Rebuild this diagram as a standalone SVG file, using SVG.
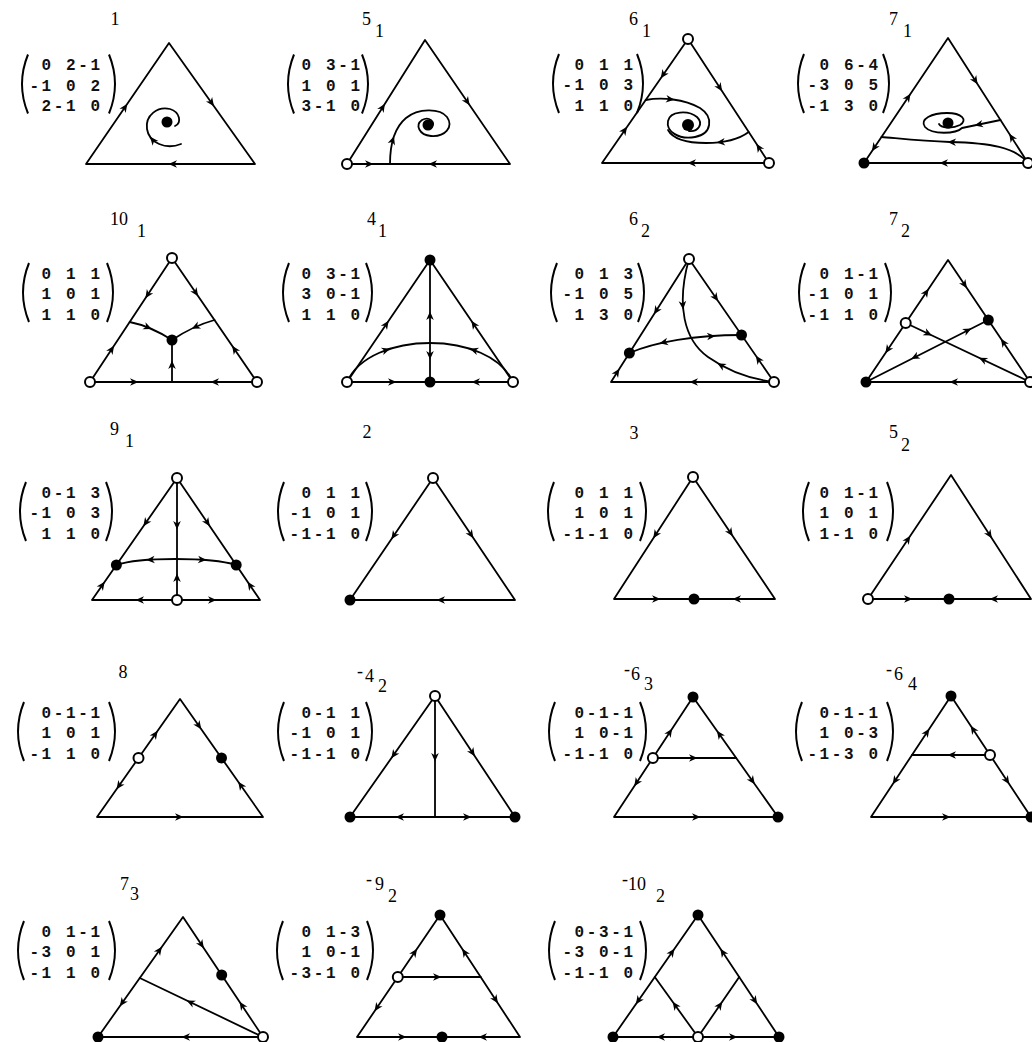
<svg xmlns="http://www.w3.org/2000/svg" xmlns:xlink="http://www.w3.org/1999/xlink" width="1032" height="1042" viewBox="0 0 1032 1042">
<style>
.e{fill:none;stroke:#000;stroke-width:1.8;stroke-linejoin:round;stroke-linecap:round}
.o{fill:#fff;stroke:#000;stroke-width:2}
.f{fill:#000}
.m{font-family:"Liberation Mono",monospace;font-size:16px;font-weight:bold;letter-spacing:2.6px;text-anchor:end;fill:#111}
.l{font-family:"Liberation Serif",serif;font-size:18px;fill:#000}
.p{fill:none;stroke:#000;stroke-width:2}
</style>
<defs>
<path id="ah" d="M1.5,0 L-7,-3.8 L-4.5,0 L-7,3.8 Z" fill="#000"/>
</defs>
<rect width="1032" height="1042" fill="#fff"/>

<!-- Panel 1 -->
<g id="panel-1">
<text class="l" x="115" y="25" text-anchor="middle">1</text>
<g class="matrix"><text class="m" x="102.6" y="70">0 2-1</text><text class="m" x="102.6" y="90.5">-1 0 2</text><text class="m" x="102.6" y="111">2-1 0</text>
<path class="p" d="M28,54.5 Q16,84 28,113.5"/><path class="p" d="M109,54.5 Q121,84 109,113.5"/></g>
<g id="panel-1-connectors">
<polygon class="e" points="169,43 86,164 255,164"/>
<path class="e" d="M181,144 C166,150 149,143 147,129 C145,115 158,106 170,109 C180,112 182,123 175,126"/>
<use href="#ah" transform="translate(126.5,105) rotate(-55.6)"/>
<use href="#ah" transform="translate(213.1,105) rotate(54.6)"/>
<use href="#ah" transform="translate(170,164) rotate(180)"/>
<use href="#ah" transform="translate(151,138) rotate(-130)"/>
</g>
<g id="panel-1-node-1"><circle class="f" cx="167" cy="122" r="5.5"/></g>
</g>

<!-- Panel 5_1 -->
<g id="panel-5-1">
<text class="l" x="362" y="25">5<tspan x="375" y="37">1</tspan></text>
<g class="matrix"><text class="m" x="362.6" y="70">0 3-1</text><text class="m" x="362.6" y="90.5">1 0 1</text><text class="m" x="362.6" y="111">3-1 0</text>
<path class="p" d="M294,54.5 Q282,84 294,113.5"/><path class="p" d="M362,54.5 Q374,84 362,113.5"/></g>
<g id="panel-5-1-connectors">
<polygon class="e" points="425,40 347,164 510,164"/>
<path class="e" d="M390,164 C390,145 394,128 406,118 C418,108 440,108 447,117 C454,127 445,137 431,136 C419,135 415,125 422,120 C429,116 436,122 432,127"/>
<use href="#ah" transform="translate(384.1,105) rotate(-57.8)"/>
<use href="#ah" transform="translate(468.8,104) rotate(55.6)"/>
<use href="#ah" transform="translate(372,164) rotate(0)"/>
<use href="#ah" transform="translate(430,164) rotate(180)"/>
<use href="#ah" transform="translate(393.5,137.6) rotate(-72)"/>
</g>
<g id="panel-5-1-node-1"><circle class="o" cx="347" cy="164" r="5"/></g>
<g id="panel-5-1-node-2"><circle class="f" cx="428" cy="125" r="5.5"/></g>
</g>

<!-- Panel 6_1 -->
<g id="panel-6-1">
<text class="l" x="629" y="25">6<tspan x="642" y="37">1</tspan></text>
<g class="matrix"><text class="m" x="635.6" y="69.5">0 1 1</text><text class="m" x="635.6" y="90">-1 0 3</text><text class="m" x="635.6" y="110.5">1 1 0</text>
<path class="p" d="M559,54 Q547,83.5 559,113"/><path class="p" d="M637,54 Q649,83.5 637,113"/></g>
<g id="panel-6-1-connectors">
<polygon class="e" points="688,39 602,163 769,163"/>
<path class="e" d="M645.7,100 C662,97 684,99 700,108 C714,117 712,134 695,137 C678,140 666,131 668,121 C670,111 688,110 697,117 C704,124 698,132 689,131"/>
<path class="e" d="M748.7,132 C738,140 722,143 706,143 C690,143 674,141 668,130"/>
<use href="#ah" transform="translate(661.6,77) rotate(124.7)"/>
<use href="#ah" transform="translate(626.2,128) rotate(-55.3)"/>
<use href="#ah" transform="translate(721.3,90) rotate(56.8)"/>
<use href="#ah" transform="translate(757.2,145) rotate(-123.2)"/>
<use href="#ah" transform="translate(689,163) rotate(180)"/>
<use href="#ah" transform="translate(673,99.5) rotate(7)"/>
<use href="#ah" transform="translate(718,142.4) rotate(174)"/>
</g>
<g id="panel-6-1-node-1"><circle class="o" cx="688" cy="39" r="5"/></g>
<g id="panel-6-1-node-2"><circle class="o" cx="769" cy="163" r="5"/></g>
<g id="panel-6-1-node-3"><circle class="f" cx="688" cy="125" r="6"/></g>
</g>

<!-- Panel 7_1 -->
<g id="panel-7-1">
<text class="l" x="889" y="25">7<tspan x="903" y="37">1</tspan></text>
<g class="matrix"><text class="m" x="880.6" y="69.5">0 6-4</text><text class="m" x="880.6" y="90">-3 0 5</text><text class="m" x="880.6" y="110.5">-1 3 0</text>
<path class="p" d="M804,54 Q792,83.5 804,113"/><path class="p" d="M883,54 Q895,83.5 883,113"/></g>
<g id="panel-7-1-connectors">
<polygon class="e" points="948,38 864,163 1028,163"/>
<path class="e" d="M1028,163 C1015,147 990,143 950,142 C920,141 895,138 881.5,137"/>
<path class="e" d="M1000.5,120 L962,128 C956,134 932,135 925,127 C919,119 932,113 947,113 C962,113 968,120 960,125 C952,129 941,128 939,124"/>
<use href="#ah" transform="translate(909.7,95) rotate(-56.1)"/>
<use href="#ah" transform="translate(872.7,150) rotate(123.9)"/>
<use href="#ah" transform="translate(976.8,83) rotate(57.4)"/>
<use href="#ah" transform="translate(1010.1,135) rotate(-122.6)"/>
<use href="#ah" transform="translate(941,163) rotate(180)"/>
<use href="#ah" transform="translate(949,142) rotate(182)"/>
<use href="#ah" transform="translate(976,125.1) rotate(168)"/>
</g>
<g id="panel-7-1-node-1"><circle class="f" cx="864" cy="163" r="5.5"/></g>
<g id="panel-7-1-node-2"><circle class="o" cx="1028" cy="163" r="5"/></g>
<g id="panel-7-1-node-3"><circle class="f" cx="948" cy="123" r="5.5"/></g>
</g>

<!-- Panel 10_1 -->
<g id="panel-10-1">
<text class="l" x="110" y="225">10<tspan x="137" y="237">1</tspan></text>
<g class="matrix"><text class="m" x="102.6" y="278.5">0 1 1</text><text class="m" x="102.6" y="299">1 0 1</text><text class="m" x="102.6" y="319.5">1 1 0</text>
<path class="p" d="M29,263 Q17,292.5 29,322"/><path class="p" d="M107,263 Q119,292.5 107,322"/></g>
<g id="panel-10-1-connectors">
<polygon class="e" points="172,258 90,382 257,382"/>
<path class="e" d="M129.7,322 Q150,326 172,340"/>
<path class="e" d="M214.5,320 Q193,326 172,340"/>
<path class="e" d="M172,382 L172,340"/>
<use href="#ah" transform="translate(146.2,297) rotate(123.5)"/>
<use href="#ah" transform="translate(113.2,347) rotate(-56.5)"/>
<use href="#ah" transform="translate(197.3,295) rotate(55.6)"/>
<use href="#ah" transform="translate(233,347) rotate(-124.4)"/>
<use href="#ah" transform="translate(137,382) rotate(0)"/>
<use href="#ah" transform="translate(212,382) rotate(180)"/>
<use href="#ah" transform="translate(150.4,328.5) rotate(23)"/>
<use href="#ah" transform="translate(193.1,328) rotate(155)"/>
<use href="#ah" transform="translate(172,362) rotate(-90)"/>
</g>
<g id="panel-10-1-node-1"><circle class="o" cx="172" cy="258" r="5"/></g>
<g id="panel-10-1-node-2"><circle class="o" cx="90" cy="382" r="5"/></g>
<g id="panel-10-1-node-3"><circle class="o" cx="257" cy="382" r="5"/></g>
<g id="panel-10-1-node-4"><circle class="f" cx="172" cy="340" r="5.5"/></g>
</g>

<!-- Panel 4_1 -->
<g id="panel-4-1">
<text class="l" x="367" y="225">4<tspan x="378" y="237">1</tspan></text>
<g class="matrix"><text class="m" x="362.6" y="278.5">0 3-1</text><text class="m" x="362.6" y="299">3 0-1</text><text class="m" x="362.6" y="319.5">1 1 0</text>
<path class="p" d="M289,263 Q277,292.5 289,322"/><path class="p" d="M366,263 Q378,292.5 366,322"/></g>
<g id="panel-4-1-connectors">
<polygon class="e" points="430,260 347,382 513,382"/>
<path class="e" d="M430,260 L430,382"/>
<path class="e" d="M347,382 C370,330 490,330 513,382"/>
<use href="#ah" transform="translate(387.8,322) rotate(-55.8)"/>
<use href="#ah" transform="translate(472.2,322) rotate(-124.2)"/>
<use href="#ah" transform="translate(430,313) rotate(-90)"/>
<use href="#ah" transform="translate(430,358) rotate(90)"/>
<use href="#ah" transform="translate(388.7,349.2) rotate(-18)"/>
<use href="#ah" transform="translate(471.3,349.2) rotate(-162)"/>
<use href="#ah" transform="translate(395,382) rotate(0)"/>
<use href="#ah" transform="translate(473,382) rotate(180)"/>
</g>
<g id="panel-4-1-node-1"><circle class="f" cx="430" cy="260" r="5.5"/></g>
<g id="panel-4-1-node-2"><circle class="o" cx="347" cy="382" r="5"/></g>
<g id="panel-4-1-node-3"><circle class="o" cx="513" cy="382" r="5"/></g>
<g id="panel-4-1-node-4"><circle class="f" cx="430" cy="382" r="5.5"/></g>
</g>

<!-- Panel 6_2 -->
<g id="panel-6-2">
<text class="l" x="629" y="225">6<tspan x="641" y="237">2</tspan></text>
<g class="matrix"><text class="m" x="635.6" y="278.5">0 1 3</text><text class="m" x="635.6" y="299">-1 0 5</text><text class="m" x="635.6" y="319.5">1 3 0</text>
<path class="p" d="M557,263 Q545,292.5 557,322"/><path class="p" d="M638,263 Q650,292.5 638,322"/></g>
<g id="panel-6-2-connectors">
<polygon class="e" points="689,259 611,382 774,382"/>
<path class="e" d="M629.4,353 C655,342 695,335 741.5,335"/>
<path class="e" d="M689,259 C676,305 684,340 708,357 C732,374 758,380 774,382"/>
<use href="#ah" transform="translate(654.8,313) rotate(122.4)"/>
<use href="#ah" transform="translate(618.6,370) rotate(-57.6)"/>
<use href="#ah" transform="translate(717.3,300) rotate(55.4)"/>
<use href="#ah" transform="translate(756.7,357) rotate(-124.6)"/>
<use href="#ah" transform="translate(691,382) rotate(180)"/>
<use href="#ah" transform="translate(661,343) rotate(167)"/>
<use href="#ah" transform="translate(714,336) rotate(-4)"/>
<use href="#ah" transform="translate(683,308) rotate(85)"/>
<use href="#ah" transform="translate(718.7,363.9) rotate(-150)"/>
</g>
<g id="panel-6-2-node-1"><circle class="o" cx="689" cy="259" r="5"/></g>
<g id="panel-6-2-node-2"><circle class="o" cx="774" cy="382" r="5"/></g>
<g id="panel-6-2-node-3"><circle class="f" cx="629.4" cy="353" r="5.5"/></g>
<g id="panel-6-2-node-4"><circle class="f" cx="741.5" cy="335" r="5.5"/></g>
</g>

<!-- Panel 7_2 -->
<g id="panel-7-2">
<text class="l" x="889" y="225">7<tspan x="901" y="237">2</tspan></text>
<g class="matrix"><text class="m" x="880.6" y="278.5">0 1-1</text><text class="m" x="880.6" y="299">-1 0 1</text><text class="m" x="880.6" y="319.5">-1 1 0</text>
<path class="p" d="M805,263 Q793,292.5 805,322"/><path class="p" d="M885,263 Q897,292.5 885,322"/></g>
<g id="panel-7-2-connectors">
<polygon class="e" points="948,260 866,382 1030,382"/>
<path class="e" d="M905.7,323 L1030,382"/>
<path class="e" d="M988.3,320 L866,382"/>
<use href="#ah" transform="translate(927.8,290) rotate(-56.1)"/>
<use href="#ah" transform="translate(886.2,352) rotate(123.9)"/>
<use href="#ah" transform="translate(966.1,287) rotate(56.1)"/>
<use href="#ah" transform="translate(1001.8,340) rotate(-123.9)"/>
<use href="#ah" transform="translate(951,382) rotate(180)"/>
<use href="#ah" transform="translate(930.6,334.8) rotate(25.4)"/>
<use href="#ah" transform="translate(980.3,358.4) rotate(-154.6)"/>
<use href="#ah" transform="translate(970,329.3) rotate(-26.9)"/>
<use href="#ah" transform="translate(912.5,358.4) rotate(153.1)"/>
</g>
<g id="panel-7-2-node-1"><circle class="f" cx="866" cy="382" r="5.5"/></g>
<g id="panel-7-2-node-2"><circle class="o" cx="1030" cy="382" r="5"/></g>
<g id="panel-7-2-node-3"><circle class="o" cx="905.7" cy="323" r="5"/></g>
<g id="panel-7-2-node-4"><circle class="f" cx="988.3" cy="320" r="5.5"/></g>
</g>

<!-- Panel 9_1 -->
<g id="panel-9-1">
<text class="l" x="110" y="435">9<tspan x="125" y="447">1</tspan></text>
<g class="matrix"><text class="m" x="102.6" y="497.5">0-1 3</text><text class="m" x="102.6" y="518">-1 0 3</text><text class="m" x="102.6" y="538.5">1 1 0</text>
<path class="p" d="M26,482 Q14,511.5 26,541"/><path class="p" d="M106,482 Q118,511.5 106,541"/></g>
<g id="panel-9-1-connectors">
<polygon class="e" points="177,478 92,600 260,600"/>
<path class="e" d="M177,478 L177,600"/>
<path class="e" d="M116.4,565 C140,557 210,557 236.2,565"/>
<use href="#ah" transform="translate(144.2,525) rotate(124.9)"/>
<use href="#ah" transform="translate(103.8,583) rotate(-55.1)"/>
<use href="#ah" transform="translate(209,525) rotate(55.8)"/>
<use href="#ah" transform="translate(248.4,583) rotate(-124.2)"/>
<use href="#ah" transform="translate(177,528) rotate(90)"/>
<use href="#ah" transform="translate(177,575) rotate(-90)"/>
<use href="#ah" transform="translate(147.7,560) rotate(176)"/>
<use href="#ah" transform="translate(205,560) rotate(4)"/>
<use href="#ah" transform="translate(137,600) rotate(180)"/>
<use href="#ah" transform="translate(215,600) rotate(0)"/>
</g>
<g id="panel-9-1-node-1"><circle class="o" cx="177" cy="478" r="5"/></g>
<g id="panel-9-1-node-2"><circle class="o" cx="177" cy="600" r="5"/></g>
<g id="panel-9-1-node-3"><circle class="f" cx="116.4" cy="565" r="5.5"/></g>
<g id="panel-9-1-node-4"><circle class="f" cx="236.2" cy="565" r="5.5"/></g>
</g>

<!-- Panel 2 -->
<g id="panel-2">
<text class="l" x="367" y="438" text-anchor="middle">2</text>
<g class="matrix"><text class="m" x="362.6" y="497.5">0 1 1</text><text class="m" x="362.6" y="518">-1 0 1</text><text class="m" x="362.6" y="538.5">-1-1 0</text>
<path class="p" d="M284,482 Q272,511.5 284,541"/><path class="p" d="M366,482 Q378,511.5 366,541"/></g>
<g id="panel-2-connectors">
<polygon class="e" points="433,478 350,600 515,600"/>
<use href="#ah" transform="translate(392.2,538) rotate(124.2)"/>
<use href="#ah" transform="translate(472.6,537) rotate(56.1)"/>
<use href="#ah" transform="translate(438,600) rotate(180)"/>
</g>
<g id="panel-2-node-1"><circle class="o" cx="433" cy="478" r="5"/></g>
<g id="panel-2-node-2"><circle class="f" cx="350" cy="600" r="5.5"/></g>
</g>

<!-- Panel 3 -->
<g id="panel-3">
<text class="l" x="634" y="439" text-anchor="middle">3</text>
<g class="matrix"><text class="m" x="635.6" y="497.5">0 1 1</text><text class="m" x="635.6" y="518">1 0 1</text><text class="m" x="635.6" y="538.5">-1-1 0</text>
<path class="p" d="M554,482 Q542,511.5 554,541"/><path class="p" d="M640,482 Q652,511.5 640,541"/></g>
<g id="panel-3-connectors">
<polygon class="e" points="693,477 614,599 775,599"/>
<use href="#ah" transform="translate(654.1,537) rotate(122.9)"/>
<use href="#ah" transform="translate(732,535) rotate(56.1)"/>
<use href="#ah" transform="translate(659,599) rotate(0)"/>
<use href="#ah" transform="translate(734,599) rotate(180)"/>
</g>
<g id="panel-3-node-1"><circle class="o" cx="693" cy="477" r="5"/></g>
<g id="panel-3-node-2"><circle class="f" cx="694" cy="599" r="5.5"/></g>
</g>

<!-- Panel 5_2 -->
<g id="panel-5-2">
<text class="l" x="889" y="438">5<tspan x="901" y="451">2</tspan></text>
<g class="matrix"><text class="m" x="880.6" y="497.5">0 1-1</text><text class="m" x="880.6" y="518">1 0 1</text><text class="m" x="880.6" y="538.5">1-1 0</text>
<path class="p" d="M809,482 Q797,511.5 809,541"/><path class="p" d="M887,482 Q899,511.5 887,541"/></g>
<g id="panel-5-2-connectors">
<polygon class="e" points="951,475 868,599 1031,599"/>
<use href="#ah" transform="translate(909.5,537) rotate(-56.2)"/>
<use href="#ah" transform="translate(991,537) rotate(57.2)"/>
<use href="#ah" transform="translate(911,599) rotate(0)"/>
<use href="#ah" transform="translate(991,599) rotate(180)"/>
</g>
<g id="panel-5-2-node-1"><circle class="o" cx="868" cy="599" r="5"/></g>
<g id="panel-5-2-node-2"><circle class="f" cx="949" cy="599" r="5.5"/></g>
</g>

<!-- Panel 8 -->
<g id="panel-8">
<text class="l" x="123" y="678" text-anchor="middle">8</text>
<g class="matrix"><text class="m" x="102.6" y="717.5">0-1-1</text><text class="m" x="102.6" y="738">1 0 1</text><text class="m" x="102.6" y="758.5">-1 1 0</text>
<path class="p" d="M24,702 Q12,731.5 24,761"/><path class="p" d="M109,702 Q121,731.5 109,761"/></g>
<g id="panel-8-connectors">
<polygon class="e" points="180,699 97,817 263,817"/>
<use href="#ah" transform="translate(156.8,732) rotate(-54.9)"/>
<use href="#ah" transform="translate(117.4,788) rotate(125.1)"/>
<use href="#ah" transform="translate(200.4,728) rotate(54.9)"/>
<use href="#ah" transform="translate(239.1,783) rotate(-125.1)"/>
<use href="#ah" transform="translate(182,817) rotate(0)"/>
</g>
<g id="panel-8-node-1"><circle class="o" cx="138.5" cy="758" r="5"/></g>
<g id="panel-8-node-2"><circle class="f" cx="221.5" cy="758" r="5.5"/></g>
</g>

<!-- Panel -4_2 -->
<g id="panel-m4-2">
<text class="l"><tspan x="357" y="677">-</tspan><tspan x="365" y="682">4</tspan><tspan x="378" y="692">2</tspan></text>
<g class="matrix"><text class="m" x="362.6" y="717.5">0-1 1</text><text class="m" x="362.6" y="738">-1 0 1</text><text class="m" x="362.6" y="758.5">-1-1 0</text>
<path class="p" d="M284,702 Q272,731.5 284,761"/><path class="p" d="M366,702 Q378,731.5 366,761"/></g>
<g id="panel-m4-2-connectors">
<polygon class="e" points="435,696 350,817 515,817"/>
<path class="e" d="M435,696 L435,817"/>
<use href="#ah" transform="translate(392.2,757) rotate(125.1)"/>
<use href="#ah" transform="translate(474,755) rotate(56.5)"/>
<use href="#ah" transform="translate(435,760) rotate(90)"/>
<use href="#ah" transform="translate(397,817) rotate(180)"/>
<use href="#ah" transform="translate(470,817) rotate(0)"/>
</g>
<g id="panel-m4-2-node-1"><circle class="o" cx="435" cy="696" r="5"/></g>
<g id="panel-m4-2-node-2"><circle class="f" cx="350" cy="817" r="5.5"/></g>
<g id="panel-m4-2-node-3"><circle class="f" cx="515" cy="817" r="5.5"/></g>
</g>

<!-- Panel -6_3 -->
<g id="panel-m6-3">
<text class="l"><tspan x="624" y="675">-</tspan><tspan x="631" y="680">6</tspan><tspan x="644" y="690">3</tspan></text>
<g class="matrix"><text class="m" x="635.6" y="717.5">0-1-1</text><text class="m" x="635.6" y="738">1 0-1</text><text class="m" x="635.6" y="758.5">-1-1 0</text>
<path class="p" d="M555,702 Q543,731.5 555,761"/><path class="p" d="M640,702 Q652,731.5 640,761"/></g>
<g id="panel-m6-3-connectors">
<polygon class="e" points="693,697 614,817 778,817"/>
<path class="e" d="M652.9,758 L736.2,758"/>
<use href="#ah" transform="translate(696,758) rotate(0)"/>
<use href="#ah" transform="translate(671.3,730) rotate(-56.6)"/>
<use href="#ah" transform="translate(635.1,785) rotate(123.4)"/>
<use href="#ah" transform="translate(717.8,732) rotate(-125.3)"/>
<use href="#ah" transform="translate(753.9,783) rotate(54.7)"/>
<use href="#ah" transform="translate(699,817) rotate(0)"/>
</g>
<g id="panel-m6-3-node-1"><circle class="f" cx="693" cy="697" r="5.5"/></g>
<g id="panel-m6-3-node-2"><circle class="f" cx="778" cy="817" r="5.5"/></g>
<g id="panel-m6-3-node-3"><circle class="o" cx="652.9" cy="758" r="5"/></g>
</g>

<!-- Panel -6_4 -->
<g id="panel-m6-4">
<text class="l"><tspan x="886" y="675">-</tspan><tspan x="894" y="680">6</tspan><tspan x="908" y="690">4</tspan></text>
<g class="matrix"><text class="m" x="880.6" y="717.5">0-1-1</text><text class="m" x="880.6" y="738">1 0-3</text><text class="m" x="880.6" y="758.5">-1-3 0</text>
<path class="p" d="M802,702 Q790,731.5 802,761"/><path class="p" d="M887,702 Q899,731.5 887,761"/></g>
<g id="panel-m6-4-connectors">
<polygon class="e" points="951,696 871,817 1031,817"/>
<path class="e" d="M912,755 L990,755"/>
<use href="#ah" transform="translate(949,755) rotate(180)"/>
<use href="#ah" transform="translate(928.5,730) rotate(-56.5)"/>
<use href="#ah" transform="translate(893.5,783) rotate(123.5)"/>
<use href="#ah" transform="translate(971.5,727) rotate(-123.5)"/>
<use href="#ah" transform="translate(1008.5,783) rotate(56.5)"/>
<use href="#ah" transform="translate(949,817) rotate(0)"/>
</g>
<g id="panel-m6-4-node-1"><circle class="f" cx="951" cy="696" r="5.5"/></g>
<g id="panel-m6-4-node-2"><circle class="f" cx="1031" cy="817" r="5.5"/></g>
<g id="panel-m6-4-node-3"><circle class="o" cx="990" cy="755" r="5"/></g>
</g>

<!-- Panel 7_3 -->
<g id="panel-7-3">
<text class="l" x="120" y="890">7<tspan x="130" y="900">3</tspan></text>
<g class="matrix"><text class="m" x="102.6" y="936.5">0 1-1</text><text class="m" x="102.6" y="957">-3 0 1</text><text class="m" x="102.6" y="977.5">-1 1 0</text>
<path class="p" d="M24,921 Q12,950.5 24,980"/><path class="p" d="M109,921 Q121,950.5 109,980"/></g>
<g id="panel-7-3-connectors">
<polygon class="e" points="183,917 98,1037 263,1037"/>
<path class="e" d="M263,1037 L139.8,978"/>
<use href="#ah" transform="translate(188,1001.1) rotate(-154.4)"/>
<use href="#ah" transform="translate(161,948) rotate(-54.7)"/>
<use href="#ah" transform="translate(120.7,1005) rotate(125.3)"/>
<use href="#ah" transform="translate(203,947) rotate(56.3)"/>
<use href="#ah" transform="translate(240.4,1003) rotate(-123.7)"/>
<use href="#ah" transform="translate(183,1037) rotate(180)"/>
</g>
<g id="panel-7-3-node-1"><circle class="f" cx="98" cy="1037" r="5.5"/></g>
<g id="panel-7-3-node-2"><circle class="o" cx="263" cy="1037" r="5"/></g>
<g id="panel-7-3-node-3"><circle class="f" cx="221.7" cy="975" r="5.5"/></g>
</g>

<!-- Panel -9_2 -->
<g id="panel-m9-2">
<text class="l"><tspan x="366" y="885">-</tspan><tspan x="375" y="890">9</tspan><tspan x="388" y="902">2</tspan></text>
<g class="matrix"><text class="m" x="362.6" y="936.5">0 1-3</text><text class="m" x="362.6" y="957">1 0-1</text><text class="m" x="362.6" y="977.5">-3-1 0</text>
<path class="p" d="M283,921 Q271,950.5 283,980"/><path class="p" d="M367,921 Q379,950.5 367,980"/></g>
<g id="panel-m9-2-connectors">
<polygon class="e" points="440,915 357,1037 520,1037"/>
<path class="e" d="M397.8,977 L480.7,977"/>
<use href="#ah" transform="translate(440,977) rotate(0)"/>
<use href="#ah" transform="translate(416.2,950) rotate(-55.8)"/>
<use href="#ah" transform="translate(375.4,1010) rotate(124.2)"/>
<use href="#ah" transform="translate(463,950) rotate(-123.3)"/>
<use href="#ah" transform="translate(497.1,1002) rotate(56.7)"/>
<use href="#ah" transform="translate(405,1037) rotate(0)"/>
<use href="#ah" transform="translate(480,1037) rotate(180)"/>
</g>
<g id="panel-m9-2-node-1"><circle class="f" cx="440" cy="915" r="5.5"/></g>
<g id="panel-m9-2-node-2"><circle class="o" cx="397.8" cy="977" r="5"/></g>
<g id="panel-m9-2-node-3"><circle class="f" cx="442" cy="1037" r="5.5"/></g>
</g>

<!-- Panel -10_2 -->
<g id="panel-m10-2">
<text class="l"><tspan x="622" y="885">-</tspan><tspan x="628" y="890">10</tspan><tspan x="656" y="902">2</tspan></text>
<g class="matrix"><text class="m" x="635.6" y="936.5">0-3-1</text><text class="m" x="635.6" y="957">-3 0-1</text><text class="m" x="635.6" y="977.5">-1-1 0</text>
<path class="p" d="M555,921 Q543,950.5 555,980"/><path class="p" d="M640,921 Q652,950.5 640,980"/></g>
<g id="panel-m10-2-connectors">
<polygon class="e" points="698,915 613,1037 779,1037"/>
<path class="e" d="M654.8,977 L698,1037 L739.2,977"/>
<use href="#ah" transform="translate(673.5,1003) rotate(-125.8)"/>
<use href="#ah" transform="translate(721.4,1003) rotate(-55.5)"/>
<use href="#ah" transform="translate(673.6,950) rotate(-55.1)"/>
<use href="#ah" transform="translate(636.7,1003) rotate(124.9)"/>
<use href="#ah" transform="translate(721.2,950) rotate(-123.6)"/>
<use href="#ah" transform="translate(756.4,1003) rotate(56.4)"/>
<use href="#ah" transform="translate(658,1037) rotate(180)"/>
<use href="#ah" transform="translate(736,1037) rotate(0)"/>
</g>
<g id="panel-m10-2-node-1"><circle class="f" cx="698" cy="915" r="5.5"/></g>
<g id="panel-m10-2-node-2"><circle class="f" cx="613" cy="1037" r="5.5"/></g>
<g id="panel-m10-2-node-3"><circle class="f" cx="779" cy="1037" r="5.5"/></g>
<g id="panel-m10-2-node-4"><circle class="o" cx="698" cy="1037" r="5"/></g>
</g>
</svg>
